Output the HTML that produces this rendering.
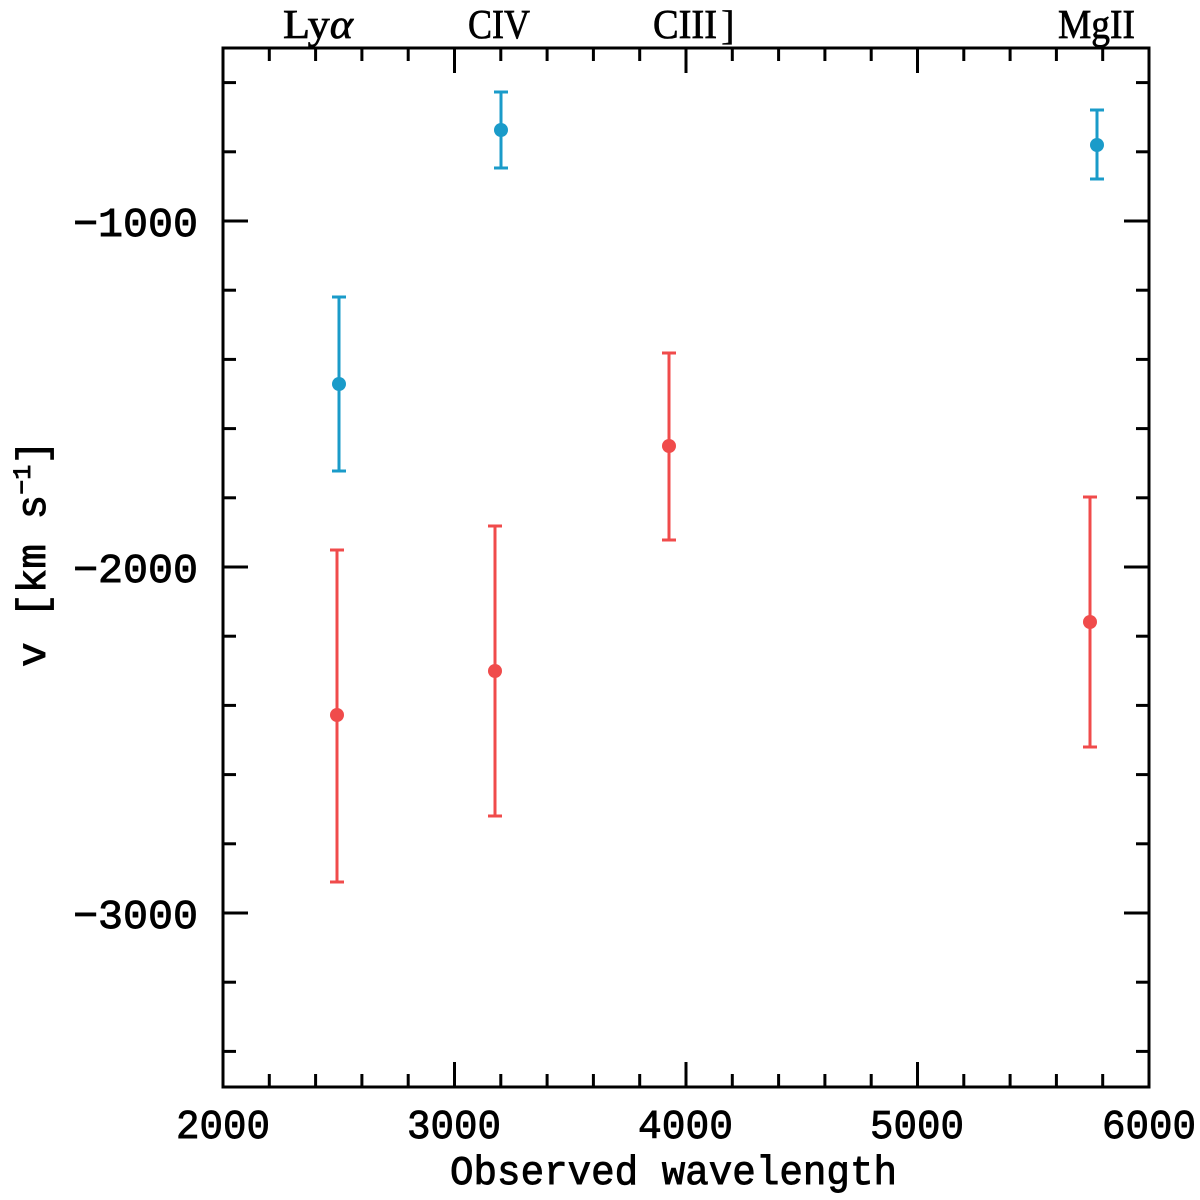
<!DOCTYPE html>
<html>
<head>
<meta charset="utf-8">
<style>
html,body{margin:0;padding:0;background:#fff;}
svg{display:block;}
.t{font-family:"Liberation Mono",monospace;font-size:41px;fill:#000;stroke:#000;stroke-width:0.9px;}
.s{font-family:"Liberation Serif",serif;font-size:41px;fill:#000;stroke:#000;stroke-width:0.7px;}
</style>
</head>
<body>
<svg width="1200" height="1200" viewBox="0 0 1200 1200" xmlns="http://www.w3.org/2000/svg">
<rect width="1200" height="1200" fill="#fff"/>
<!-- frame -->
<rect x="223" y="48" width="926" height="1039" fill="none" stroke="#000" stroke-width="3"/>
<g stroke="#000" stroke-width="3">
<!-- x ticks bottom -->
<line x1="269.3" y1="1087" x2="269.3" y2="1074"/>
<line x1="315.6" y1="1087" x2="315.6" y2="1074"/>
<line x1="361.9" y1="1087" x2="361.9" y2="1074"/>
<line x1="408.2" y1="1087" x2="408.2" y2="1074"/>
<line x1="454.5" y1="1087" x2="454.5" y2="1062"/>
<line x1="500.8" y1="1087" x2="500.8" y2="1074"/>
<line x1="547.1" y1="1087" x2="547.1" y2="1074"/>
<line x1="593.4" y1="1087" x2="593.4" y2="1074"/>
<line x1="639.7" y1="1087" x2="639.7" y2="1074"/>
<line x1="686" y1="1087" x2="686" y2="1062"/>
<line x1="732.3" y1="1087" x2="732.3" y2="1074"/>
<line x1="778.6" y1="1087" x2="778.6" y2="1074"/>
<line x1="824.9" y1="1087" x2="824.9" y2="1074"/>
<line x1="871.2" y1="1087" x2="871.2" y2="1074"/>
<line x1="917.5" y1="1087" x2="917.5" y2="1062"/>
<line x1="963.8" y1="1087" x2="963.8" y2="1074"/>
<line x1="1010.1" y1="1087" x2="1010.1" y2="1074"/>
<line x1="1056.4" y1="1087" x2="1056.4" y2="1074"/>
<line x1="1102.7" y1="1087" x2="1102.7" y2="1074"/>
<!-- x ticks top -->
<line x1="269.3" y1="48" x2="269.3" y2="61"/>
<line x1="315.6" y1="48" x2="315.6" y2="61"/>
<line x1="361.9" y1="48" x2="361.9" y2="61"/>
<line x1="408.2" y1="48" x2="408.2" y2="61"/>
<line x1="454.5" y1="48" x2="454.5" y2="73"/>
<line x1="500.8" y1="48" x2="500.8" y2="61"/>
<line x1="547.1" y1="48" x2="547.1" y2="61"/>
<line x1="593.4" y1="48" x2="593.4" y2="61"/>
<line x1="639.7" y1="48" x2="639.7" y2="61"/>
<line x1="686" y1="48" x2="686" y2="73"/>
<line x1="732.3" y1="48" x2="732.3" y2="61"/>
<line x1="778.6" y1="48" x2="778.6" y2="61"/>
<line x1="824.9" y1="48" x2="824.9" y2="61"/>
<line x1="871.2" y1="48" x2="871.2" y2="61"/>
<line x1="917.5" y1="48" x2="917.5" y2="73"/>
<line x1="963.8" y1="48" x2="963.8" y2="61"/>
<line x1="1010.1" y1="48" x2="1010.1" y2="61"/>
<line x1="1056.4" y1="48" x2="1056.4" y2="61"/>
<line x1="1102.7" y1="48" x2="1102.7" y2="61"/>
<!-- y ticks left -->
<line x1="223" y1="82.6" x2="236" y2="82.6"/>
<line x1="223" y1="151.8" x2="236" y2="151.8"/>
<line x1="223" y1="221" x2="248" y2="221"/>
<line x1="223" y1="290.2" x2="236" y2="290.2"/>
<line x1="223" y1="359.4" x2="236" y2="359.4"/>
<line x1="223" y1="428.6" x2="236" y2="428.6"/>
<line x1="223" y1="497.8" x2="236" y2="497.8"/>
<line x1="223" y1="567" x2="248" y2="567"/>
<line x1="223" y1="636.2" x2="236" y2="636.2"/>
<line x1="223" y1="705.4" x2="236" y2="705.4"/>
<line x1="223" y1="774.6" x2="236" y2="774.6"/>
<line x1="223" y1="843.8" x2="236" y2="843.8"/>
<line x1="223" y1="913" x2="248" y2="913"/>
<line x1="223" y1="982.2" x2="236" y2="982.2"/>
<line x1="223" y1="1051.4" x2="236" y2="1051.4"/>
<!-- y ticks right -->
<line x1="1149" y1="82.6" x2="1136" y2="82.6"/>
<line x1="1149" y1="151.8" x2="1136" y2="151.8"/>
<line x1="1149" y1="221" x2="1124" y2="221"/>
<line x1="1149" y1="290.2" x2="1136" y2="290.2"/>
<line x1="1149" y1="359.4" x2="1136" y2="359.4"/>
<line x1="1149" y1="428.6" x2="1136" y2="428.6"/>
<line x1="1149" y1="497.8" x2="1136" y2="497.8"/>
<line x1="1149" y1="567" x2="1124" y2="567"/>
<line x1="1149" y1="636.2" x2="1136" y2="636.2"/>
<line x1="1149" y1="705.4" x2="1136" y2="705.4"/>
<line x1="1149" y1="774.6" x2="1136" y2="774.6"/>
<line x1="1149" y1="843.8" x2="1136" y2="843.8"/>
<line x1="1149" y1="913" x2="1124" y2="913"/>
<line x1="1149" y1="982.2" x2="1136" y2="982.2"/>
<line x1="1149" y1="1051.4" x2="1136" y2="1051.4"/>
</g>

<!-- tick labels -->
<text class="t" x="73" y="236" textLength="125" lengthAdjust="spacingAndGlyphs">−1000</text>
<text class="t" x="73" y="582" textLength="125" lengthAdjust="spacingAndGlyphs">−2000</text>
<text class="t" x="73" y="928" textLength="125" lengthAdjust="spacingAndGlyphs">−3000</text>

<text class="t" x="176" y="1138" textLength="94" lengthAdjust="spacingAndGlyphs">2000</text>
<text class="t" x="407" y="1138" textLength="94" lengthAdjust="spacingAndGlyphs">3000</text>
<text class="t" x="638" y="1138" textLength="95" lengthAdjust="spacingAndGlyphs">4000</text>
<text class="t" x="870" y="1138" textLength="94" lengthAdjust="spacingAndGlyphs">5000</text>
<text class="t" x="1102" y="1138" textLength="94" lengthAdjust="spacingAndGlyphs">6000</text>

<!-- axis titles -->
<text class="t" x="450" y="1184" textLength="447" lengthAdjust="spacingAndGlyphs">Observed wavelength</text>
<text class="t" transform="translate(45,667) rotate(-90)" x="0" y="0">v [km s<tspan font-size="25" dy="-15">−1</tspan><tspan dy="15">]</tspan></text>

<!-- top labels -->
<text class="s" x="283" y="38" textLength="70" lengthAdjust="spacingAndGlyphs">Ly<tspan font-style="italic">α</tspan></text>
<text class="s" x="468" y="38" textLength="62" lengthAdjust="spacingAndGlyphs">CIV</text>
<text class="s" x="653" y="38" textLength="64" lengthAdjust="spacingAndGlyphs">CIII</text>
<text class="s" x="721" y="39" font-size="48" style="stroke-width:0.3px">]</text>
<text class="s" x="1058" y="38" textLength="77" lengthAdjust="spacingAndGlyphs">MgII</text>

<!-- blue points -->
<g stroke="#1a9bc9" stroke-width="3" fill="#1a9bc9">
<line x1="339" y1="297" x2="339" y2="471"/>
<line x1="332" y1="297" x2="346" y2="297"/>
<line x1="332" y1="471" x2="346" y2="471"/>
<circle cx="339" cy="384" r="7" stroke="none"/>

<line x1="501" y1="92" x2="501" y2="168"/>
<line x1="494" y1="92" x2="508" y2="92"/>
<line x1="494" y1="168" x2="508" y2="168"/>
<circle cx="501" cy="130" r="7" stroke="none"/>

<line x1="1097" y1="110" x2="1097" y2="179"/>
<line x1="1090" y1="110" x2="1104" y2="110"/>
<line x1="1090" y1="179" x2="1104" y2="179"/>
<circle cx="1097" cy="145" r="7" stroke="none"/>
</g>

<!-- red points -->
<g stroke="#f04b4b" stroke-width="3" fill="#f04b4b">
<line x1="337" y1="550" x2="337" y2="882"/>
<line x1="330" y1="550" x2="344" y2="550"/>
<line x1="330" y1="882" x2="344" y2="882"/>
<circle cx="337" cy="715" r="7" stroke="none"/>

<line x1="495" y1="526" x2="495" y2="816"/>
<line x1="488" y1="526" x2="502" y2="526"/>
<line x1="488" y1="816" x2="502" y2="816"/>
<circle cx="495" cy="671" r="7" stroke="none"/>

<line x1="669" y1="353" x2="669" y2="540"/>
<line x1="662" y1="353" x2="676" y2="353"/>
<line x1="662" y1="540" x2="676" y2="540"/>
<circle cx="669" cy="446" r="7" stroke="none"/>

<line x1="1090" y1="497" x2="1090" y2="747"/>
<line x1="1083" y1="497" x2="1097" y2="497"/>
<line x1="1083" y1="747" x2="1097" y2="747"/>
<circle cx="1090" cy="622" r="7" stroke="none"/>
</g>
</svg>
</body>
</html>
